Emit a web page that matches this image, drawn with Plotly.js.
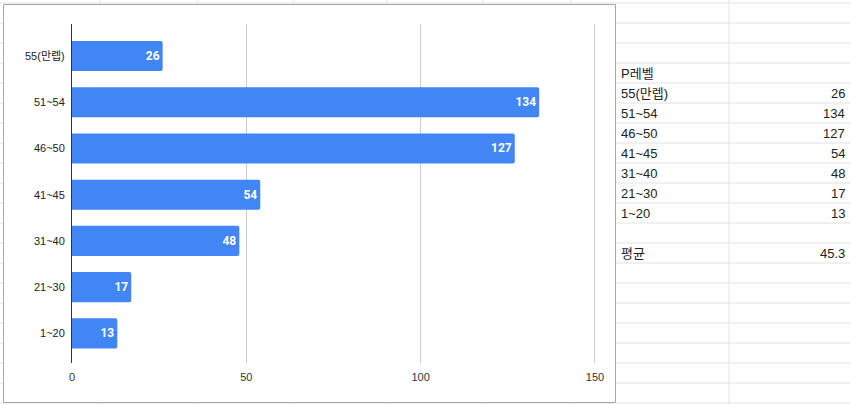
<!DOCTYPE html>
<html><head><meta charset="utf-8">
<script src="https://cdn.plot.ly/plotly-3.0.1.min.js"></script>
<style>html,body{margin:0;padding:0;background:#fff;}#chart{width:850px;height:404px;}</style>
</head><body><div id="chart"></div>
<script>
const categories = ['55(만렙)', '51~54', '46~50', '41~45', '31~40', '21~30', '1~20'];
const counts = [26, 134, 127, 54, 48, 17, 13];
const tableHeader = 'P레벨';
const avgLabel = '평균';
const avgValue = '45.3';
const xTicks = [0, 50, 100, 150];

const W = 850, H = 404, L = 72, R = 254, T = 24, B = 41;
const pw = W - L - R, ph = H - T - B;
const px = x => (x - L) / pw;
const py = y => (H - B - y) / ph;

const gridColor = '#e2e2e2';
const shapes = [];
// spreadsheet row lines
for (let k = 0; k <= 20; k++) {
  const y = 3 + 20 * k;
  shapes.push({type:'line', xref:'paper', yref:'paper', x0:px(0), x1:px(850), y0:py(y), y1:py(y), line:{color:gridColor, width:1}, layer:'below'});
}
// spreadsheet column lines
[100, 197, 293, 387, 483, 571, 729].forEach(x => {
  shapes.push({type:'line', xref:'paper', yref:'paper', x0:px(x), x1:px(x), y0:py(0), y1:py(404), line:{color:gridColor, width:1}, layer:'below'});
});
// chart box
shapes.push({type:'rect', xref:'paper', yref:'paper', x0:px(3.5), x1:px(615.5), y0:py(4.5), y1:py(402.5), fillcolor:'#ffffff', line:{color:'#a6a6a6', width:1}, layer:'below'});

const tf = {family:'Liberation Sans, Arial, Noto Sans CJK KR, sans-serif', size:13, color:'#222'};
const annotations = [];
function cell(text, x, y, anchor) {
  annotations.push({text:String(text), xref:'paper', yref:'paper', x:px(x), y:py(y), xanchor:anchor, yanchor:'middle', showarrow:false, font:tf});
}
cell(tableHeader, 619, 73, 'left');
categories.forEach((c, i) => {
  cell(c, 619, 93 + 20 * i, 'left');
  cell(counts[i], 847, 93 + 20 * i, 'right');
});
cell(avgLabel, 619, 253, 'left');
cell(avgValue, 847, 253, 'right');

const trace = {
  type:'bar', orientation:'h', x:counts, y:categories,
  marker:{color:'#4285f4', cornerradius:2},
  width:0.65,
  text:counts.map(String), textposition:'inside', insidetextanchor:'end',
  textfont:{family:'Roboto, Liberation Sans, sans-serif', size:12, color:'#ffffff', weight:'bold'},
  constraintext:'none', cliponaxis:false, hoverinfo:'none'
};

const layout = {
  width:W, height:H, margin:{l:L, r:R, t:T, b:B},
  paper_bgcolor:'#ffffff', plot_bgcolor:'rgba(0,0,0,0)',
  showlegend:false, bargap:0.35,
  font:{family:'Liberation Sans, Arial, Noto Sans CJK KR, sans-serif', size:11, color:'#333'},
  xaxis:{range:[0, 150.3], tickvals:xTicks, ticktext:xTicks.map(String), showgrid:true, gridcolor:'#cccccc', zeroline:false, showline:false, ticks:'', ticklabelstandoff:6, tickfont:{size:11, color:'#333'}, fixedrange:true},
  yaxis:{type:'category', range:[6.64, -0.69], showgrid:false, zeroline:false, showline:true, linecolor:'#333', linewidth:1, ticks:'', ticklabelstandoff:4, tickfont:{size:11, color:'#222'}, fixedrange:true},
  shapes:shapes, annotations:annotations
};

Plotly.newPlot('chart', [trace], layout, {displayModeBar:false, staticPlot:true});
</script>
</body></html>
